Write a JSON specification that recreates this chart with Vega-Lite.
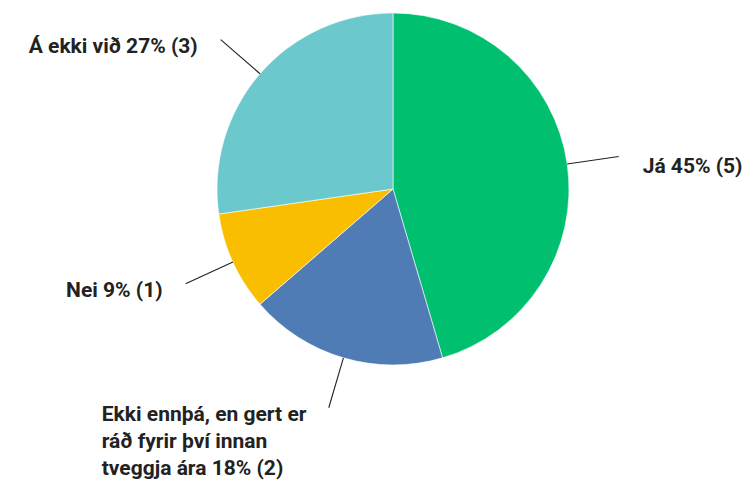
{
  "$schema": "https://vega.github.io/schema/vega-lite/v6.json",
  "width": 718,
  "height": 378,
  "autosize": "none",
  "padding": {"left": 34, "top": 0, "right": 0, "bottom": 102},
  "background": "white",
  "config": {"view": {"stroke": null}},
  "data": {
    "values": [
      {"idx": 1, "category": "Já", "count": 5, "label": "Já 45% (5)"},
      {"idx": 2, "category": "Ekki ennþá, en gert er ráð fyrir því innan tveggja ára", "count": 2, "label": "Ekki ennþá, en gert er\nráð fyrir því innan\ntveggja ára 18% (2)"},
      {"idx": 3, "category": "Nei", "count": 1, "label": "Nei 9% (1)"},
      {"idx": 4, "category": "Á ekki við", "count": 3, "label": "Á ekki við 27% (3)"}
    ]
  },
  "transform": [
    {"joinaggregate": [{"op": "sum", "field": "count", "as": "total"}]},
    {"window": [{"op": "sum", "field": "count", "as": "cum"}], "sort": [{"field": "idx"}], "frame": [null, 0]},
    {"calculate": "(datum.cum - datum.count / 2) / datum.total * 2 * PI", "as": "mid"},
    {"calculate": "176 * sin(datum.mid)", "as": "x1"},
    {"calculate": "176 * cos(datum.mid)", "as": "y1"},
    {"calculate": "228 * sin(datum.mid)", "as": "x2"},
    {"calculate": "228 * cos(datum.mid)", "as": "y2"}
  ],
  "layer": [
    {
      "mark": {"type": "arc", "outerRadius": 176, "stroke": "white", "strokeWidth": 0.6},
      "encoding": {
        "theta": {"field": "count", "type": "quantitative", "stack": true},
        "order": {"field": "idx", "type": "quantitative"},
        "color": {
          "field": "category",
          "type": "nominal",
          "legend": null,
          "scale": {
            "domain": ["Já", "Ekki ennþá, en gert er ráð fyrir því innan tveggja ára", "Nei", "Á ekki við"],
            "range": ["#00BF6F", "#507CB6", "#F9BE00", "#6BC8CD"]
          }
        }
      }
    },
    {
      "mark": {"type": "rule", "color": "#222222", "strokeWidth": 1.1},
      "encoding": {
        "x": {"field": "x1", "type": "quantitative", "scale": {"domain": [-359, 359]}, "axis": null},
        "y": {"field": "y1", "type": "quantitative", "scale": {"domain": [-189, 189]}, "axis": null},
        "x2": {"field": "x2"},
        "y2": {"field": "y2"}
      }
    },
    {
      "transform": [{"filter": "datum.idx == 1"}],
      "mark": {"type": "text", "align": "left", "baseline": "alphabetic", "dx": 24, "dy": 16, "font": "Roboto", "fontSize": 21, "fontWeight": "bold", "color": "#222222", "lineBreak": "\n"},
      "encoding": {
        "x": {"field": "x2", "type": "quantitative", "scale": {"domain": [-359, 359]}, "axis": null},
        "y": {"field": "y2", "type": "quantitative", "scale": {"domain": [-189, 189]}, "axis": null},
        "text": {"field": "label"}
      }
    },
    {
      "transform": [{"filter": "datum.idx == 2"}],
      "mark": {"type": "text", "align": "left", "baseline": "alphabetic", "dx": -227, "dy": 13, "font": "Roboto", "fontSize": 21, "fontWeight": "bold", "lineHeight": 27, "color": "#222222", "lineBreak": "\n"},
      "encoding": {
        "x": {"field": "x2", "type": "quantitative", "scale": {"domain": [-359, 359]}, "axis": null},
        "y": {"field": "y2", "type": "quantitative", "scale": {"domain": [-189, 189]}, "axis": null},
        "text": {"field": "label"}
      }
    },
    {
      "transform": [{"filter": "datum.idx == 3 || datum.idx == 4"}],
      "mark": {"type": "text", "align": "right", "baseline": "alphabetic", "dx": -23, "dy": 13, "font": "Roboto", "fontSize": 21, "fontWeight": "bold", "color": "#222222", "lineBreak": "\n"},
      "encoding": {
        "x": {"field": "x2", "type": "quantitative", "scale": {"domain": [-359, 359]}, "axis": null},
        "y": {"field": "y2", "type": "quantitative", "scale": {"domain": [-189, 189]}, "axis": null},
        "text": {"field": "label"}
      }
    }
  ]
}
